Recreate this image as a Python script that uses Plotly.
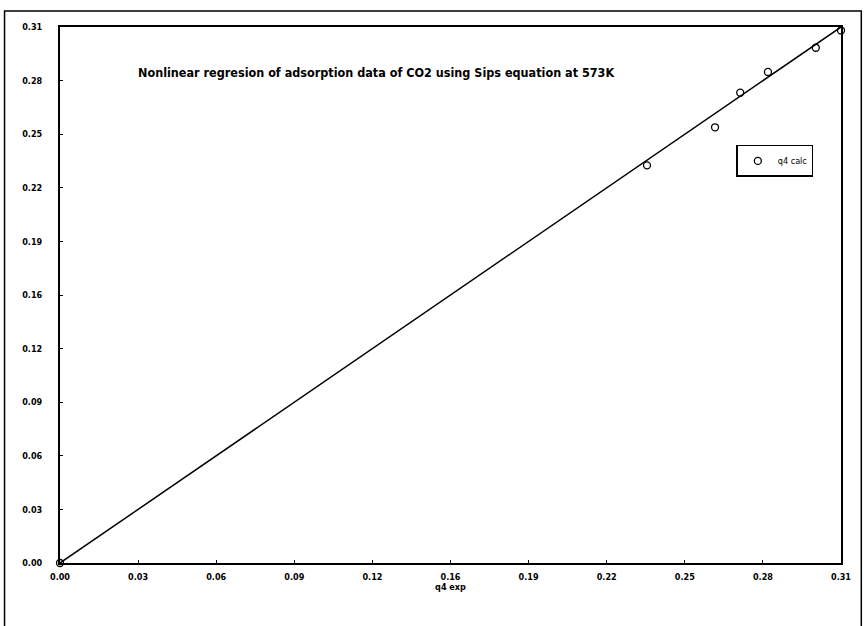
import plotly.graph_objects as go

# Experimental vs. calculated CO2 uptake (Sips model, 573 K)
q4_exp = [0.0, 0.233, 0.260, 0.270, 0.281, 0.300, 0.310]
q4_calc = [0.0, 0.230, 0.252, 0.272, 0.284, 0.298, 0.308]

# Parity line
parity = [0.0, 0.31]

tick_vals = [0.0, 0.031, 0.062, 0.093, 0.124, 0.155, 0.186, 0.217, 0.248, 0.279, 0.31]
tick_text = ["0.00", "0.03", "0.06", "0.09", "0.12", "0.16", "0.19", "0.22", "0.25", "0.28", "0.31"]

FONT = "Liberation Sans Narrow, DejaVu Sans Condensed, Arial Narrow, sans-serif"

fig = go.Figure()
fig.add_trace(go.Scatter(
    x=parity, y=parity, mode="lines",
    line=dict(color="black", width=1.5),
    showlegend=False, hoverinfo="skip",
))
fig.add_trace(go.Scatter(
    x=q4_exp, y=q4_calc, mode="markers", name="q4 calc",
    marker=dict(symbol="circle-open", size=7, color="black", line=dict(width=1.3)),
    cliponaxis=False,
))

axis_common = dict(
    range=[0, 0.31], tickvals=tick_vals,
    ticktext=[f"<b>{t}</b>" for t in tick_text],
    showgrid=False, zeroline=False,
    showline=True, linecolor="black", linewidth=2, mirror=True,
    ticks="inside", ticklen=3, tickcolor="black",
    tickfont=dict(family=FONT, size=9, color="black"),
)

fig.update_layout(
    width=864, height=626,
    margin=dict(l=60, r=23, t=27, b=63),
    paper_bgcolor="white", plot_bgcolor="white",
    xaxis=dict(**axis_common, ticklabelstandoff=4,
               title=dict(text="<b>q4 exp</b>", font=dict(family=FONT, size=9, color="black"), standoff=0)),
    yaxis=dict(**axis_common, ticklabelstandoff=14),
    showlegend=True,
    legend=dict(
        x=0.866, y=0.78, xanchor="left", yanchor="top",
        bgcolor="white", bordercolor="black", borderwidth=1.5,
        font=dict(family=FONT, size=9, color="black"),
        itemwidth=30, tracegroupgap=0,
    ),
    annotations=[dict(
        text="<b>Nonlinear regresion of adsorption data of CO2 using Sips equation at 573K</b>",
        xref="paper", yref="paper", x=0.097, y=0.915, xanchor="left", yanchor="middle",
        showarrow=False, font=dict(family=FONT, size=12.5, color="black"),
    )],
    shapes=[dict(
        type="rect", xref="paper", yref="paper",
        x0=-0.071, x1=1.026, y0=-0.12, y1=1.03,
        line=dict(color="black", width=1.5), layer="below",
    )],
)

fig.write_html("out.html")
